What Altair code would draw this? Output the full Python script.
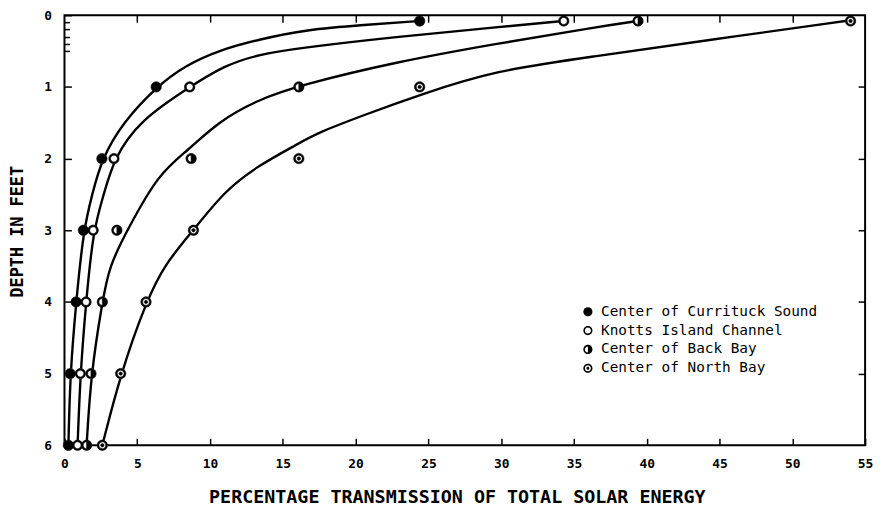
import altair as alt
import pandas as pd

# ---------------- data ----------------
series_names = [
    "Center of Currituck Sound",
    "Knotts Island Channel",
    "Center of Back Bay",
    "Center of North Bay",
]

# measured points (depth in feet, % transmission)
point_depths = [0.08, 1, 2, 3, 4, 5, 6]
currituck_pts = [24.4, 6.3, 2.57, 1.3, 0.8, 0.39, 0.27]
knotts_pts = [34.3, 8.6, 3.4, 1.97, 1.48, 1.09, 0.9]
backbay_pts = [39.4, 16.1, 8.7, 3.6, 2.6, 1.82, 1.52]
northbay_pts = [54.0, 24.4, 16.1, 8.86, 5.6, 3.86, 2.6]

# hand-fitted curves as traced on the reference
currituck_curve_depth = [0.08, 0.135, 0.2, 0.34, 0.49, 0.70, 1.0, 1.5, 2.0, 2.5, 3, 4, 5, 6]
currituck_curve_pct = [24.4, 20.6, 16.6, 13.3, 10.6, 8.3, 6.3, 4.0, 2.57, 1.9, 1.3, 0.8, 0.39, 0.27]

knotts_curve_depth = [0.08, 0.17, 0.30, 0.46, 0.55, 0.70, 1.0, 1.48, 2.0, 2.5, 3, 4, 5, 6]
knotts_curve_pct = [34.3, 29.6, 22.8, 16.0, 13.3, 11.0, 8.6, 5.1, 3.4, 2.7, 1.97, 1.48, 1.09, 0.9]

backbay_curve_depth = [0.08, 0.17, 0.40, 0.65, 0.98, 1.18, 1.48, 1.9, 2.2, 3.0, 3.51, 4, 5, 6]
backbay_curve_pct = [39.4, 36.4, 29.6, 22.8, 16.1, 13.3, 10.6, 8.4, 6.5, 4.3, 3.06, 2.6, 1.82, 1.52]

northbay_curve_depth = [0.07, 0.35, 0.58, 0.77, 1.11, 1.39, 1.64, 1.80, 2.10, 2.45, 3, 3.46, 4, 5, 6]
northbay_curve_pct = [54.0, 44.1, 36.2, 29.6, 24.4, 20.6, 17.4, 16.0, 13.3, 11.0, 8.86, 6.93, 5.6, 3.86, 2.6]

x_ticks = [0, 5, 10, 15, 20, 25, 30, 35, 40, 45, 50, 55]
y_ticks = [0, 1, 2, 3, 4, 5, 6]
y_minor_ticks = [0.1, 0.2, 0.3, 0.4, 0.5]

# ---------------- tables ----------------
pts_rows = []
for name, vals in zip(series_names, [currituck_pts, knotts_pts, backbay_pts, northbay_pts]):
    for d, v in zip(point_depths, vals):
        pts_rows.append({"series": name, "depth": d, "pct": v})
pts_df = pd.DataFrame(pts_rows)

curve_rows = []
for name, ds, vs in zip(
    series_names,
    [currituck_curve_depth, knotts_curve_depth, backbay_curve_depth, northbay_curve_depth],
    [currituck_curve_pct, knotts_curve_pct, backbay_curve_pct, northbay_curve_pct],
):
    for d, v in zip(ds, vs):
        curve_rows.append({"series": name, "depth": d, "pct": v})
curve_df = pd.DataFrame(curve_rows)

# ---------------- styling ----------------
FONT = "DejaVu Sans Mono"
W, H = 808, 434

outer = "M0,-1A1,1,0,1,1,0,1A1,1,0,1,1,0,-1Z"
ring = outer + "M0,-0.66A0.66,0.66,0,1,0,0,0.66A0.66,0.66,0,1,0,0,-0.66Z"
half = outer + "M0,-0.66A0.66,0.66,0,0,0,0,0.66Z"
dot = ring + "M0,-0.33A0.33,0.33,0,1,1,0,0.33A0.33,0.33,0,1,1,0,-0.33Z"
shapes = ["circle", ring, half, dot]

x_scale = alt.Scale(domain=[0, 55], nice=False, zero=False)
y_scale = alt.Scale(domain=[0, 6], reverse=True, nice=False, zero=False)

inward = alt.ExprRef(expr="-7")

curves = alt.Chart(curve_df).mark_line(
    color="black", strokeWidth=2.4, interpolate="basis"
).encode(
    x=alt.X(
        "pct:Q",
        scale=x_scale,
        axis=alt.Axis(
            orient="bottom",
            values=x_ticks,
            title="PERCENTAGE TRANSMISSION OF TOTAL SOLAR ENERGY",
            titleFont=FONT,
            titleFontSize=18.5,
            titleFontWeight="bold",
            titleX=W / 2 - 8,
            titleY=52,
            titleBaseline="middle",
            labelFont=FONT,
            labelFontSize=13,
            labelFontWeight="bold",
            labelColor="black",
            labelFlush=False,
            labelOverlap=False,
            labelPadding=19,
            tickSize=inward,
            tickColor="black",
            tickWidth=1.5,
            domain=False,
            grid=False,
        ),
    ),
    y=alt.Y(
        "depth:Q",
        scale=y_scale,
        axis=alt.Axis(
            orient="left",
            values=y_ticks,
            title="DEPTH IN FEET",
            titleFont=FONT,
            titleFontSize=17,
            titleFontWeight="bold",
            titleAngle=270,
            titleX=-47,
            titleY=218,
            titleAlign="center",
            titleBaseline="middle",
            labelFont=FONT,
            labelFontSize=13,
            labelFontWeight="bold",
            labelColor="black",
            labelFlush=False,
            labelOverlap=False,
            labelPadding=20,
            tickSize=inward,
            tickColor="black",
            tickWidth=1.5,
            domain=False,
            grid=False,
        ),
    ),
    detail="series:N",
    order="depth:Q",
)

under = alt.Chart(pts_df).mark_circle(color="white", opacity=1, size=105).encode(
    x=alt.X(
        "pct:Q",
        scale=x_scale,
        axis=alt.Axis(
            orient="top", values=x_ticks[1:-1], labels=False, title=None,
            tickSize=inward, tickColor="black", tickWidth=1.5, domain=False, grid=False,
        ),
    ),
    y=alt.Y(
        "depth:Q",
        scale=y_scale,
        axis=alt.Axis(
            orient="right", values=y_ticks[1:-1], labels=False, title=None,
            tickSize=inward, tickColor="black", tickWidth=1.5, domain=False, grid=False,
        ),
    ),
)

points = alt.Chart(pts_df).mark_point(
    filled=True, fill="black", stroke="black", strokeWidth=0.6, opacity=1, size=110
).encode(
    x=alt.X("pct:Q", scale=x_scale, axis=None),
    y=alt.Y(
        "depth:Q",
        scale=y_scale,
        axis=alt.Axis(
            orient="left", values=y_minor_ticks, labels=False, title=None,
            tickSize=alt.ExprRef(expr="-5"), tickColor="black", tickWidth=1.5,
            domain=False, grid=False,
        ),
    ),
    shape=alt.Shape(
        "series:N",
        scale=alt.Scale(domain=series_names, range=shapes),
        legend=alt.Legend(
            title=None,
            orient="none",
            legendX=521,
            legendY=292,
            labelFont=FONT,
            labelFontSize=14.5,
            labelColor="black",
            labelLimit=400,
            labelOffset=6,
            symbolSize=85,
            symbolFillColor="black",
            symbolStrokeColor="black",
            symbolStrokeWidth=0.6,
            rowPadding=4,
        ),
    ),
)

chart = alt.layer(curves, under, points).resolve_axis(
    x="independent", y="independent"
).properties(
    width=W,
    height=H,
    autosize=alt.AutoSizeParams(type="none"),
    padding={"left": 57, "top": 5, "right": 11, "bottom": 60},
    background="white",
).configure_view(
    stroke="black", strokeWidth=2
)

chart.save("out.html", embed_options={"renderer": "svg", "actions": False})
